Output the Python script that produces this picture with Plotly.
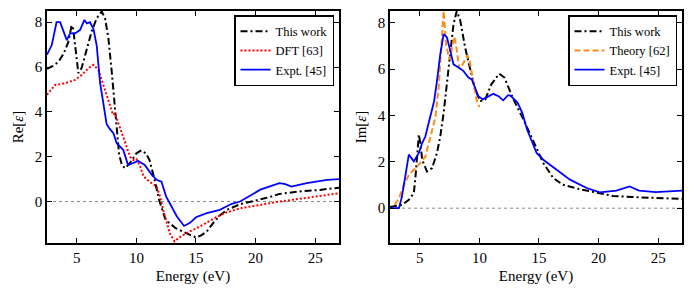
import plotly.graph_objects as go

# ---------------- Left panel: Re[eps] ----------------
re_this_x = [2.5, 3.0, 3.45, 3.9, 4.29, 4.57, 4.7, 4.85, 5.0, 5.13, 5.4, 5.83, 6.25, 6.67, 7.09, 7.37, 7.65,
             7.93, 8.2, 8.4, 8.55, 8.8, 9.07, 9.5, 10.0, 10.42, 10.8, 11.1, 11.5, 11.9, 12.45, 13.3,
             14.0, 14.5, 15.0, 15.4, 15.9, 16.45, 17.0, 17.6, 18.7, 19.5, 20.4, 21.2, 22.0, 23.0,
             23.7, 25.4, 27.0]
re_this_y = [5.92, 6.05, 6.23, 6.6, 7.12, 7.86, 7.7, 7.1, 6.4, 5.73, 5.95, 6.84, 7.59, 8.18, 8.48, 8.18, 7.29,
             5.8, 4.31, 3.0, 2.1, 1.6, 1.49, 1.75, 2.15, 2.28, 2.15, 1.85, 1.04, 0.08, -0.82, -1.19,
             -1.38, -1.49, -1.6, -1.52, -1.34, -0.95, -0.62, -0.37, -0.12, -0.02, 0.08, 0.2, 0.34, 0.42,
             0.45, 0.52, 0.62]

re_dft_x = [2.5, 3.17, 4.0, 4.86, 5.42, 5.98, 6.4, 6.8, 7.23, 7.65, 8.04, 8.2, 8.55, 8.9, 9.2, 9.47, 9.75,
            10.0, 10.3, 10.6, 11.1, 11.7, 12.0, 12.25, 12.8, 13.2, 13.6, 14.2, 15.3, 16.0, 16.7, 17.5,
            18.7, 20.4, 22.0, 23.7, 25.4, 27.0]
re_dft_y = [4.76, 5.2, 5.27, 5.43, 5.65, 5.95, 6.1, 5.88, 5.2, 4.46, 3.87, 3.94, 3.4, 2.9, 2.4, 2.0, 1.85,
            1.9, 1.6, 1.12, 0.89, 0.67, 0.2, -0.37, -1.41, -1.78, -1.6, -1.41, -1.12, -0.9, -0.7, -0.5,
            -0.3, -0.15, 0.0, 0.12, 0.25, 0.37]

re_exp_x = [2.5, 2.9, 3.3, 3.6, 3.88, 4.16, 4.44, 4.86, 5.28, 5.64, 5.84, 6.1, 6.4, 6.67, 6.95, 7.23, 7.5,
            7.75, 8.07, 8.35, 8.63, 8.9, 9.3, 9.7, 10.16, 10.7, 11.3, 11.7, 12.1, 12.5, 13.0, 13.4,
            14.0, 14.5, 15.0, 15.9, 17.0, 18.0, 18.7, 20.4, 22.0, 22.5, 23.0, 24.3, 26.0, 27.0]
re_exp_y = [6.55, 6.98, 8.0, 8.0, 7.6, 7.2, 7.5, 7.5, 7.66, 8.1, 7.95, 8.0, 7.7, 6.96, 5.32, 4.28, 3.46,
            3.25, 3.05, 2.6, 2.45, 2.3, 1.63, 1.7, 1.81, 1.63, 1.19, 0.97, 0.89, 0.22, -0.3, -0.67,
            -1.09, -0.95, -0.7, -0.52, -0.37, -0.1, 0.0, 0.53, 0.82, 0.78, 0.67, 0.82, 0.97, 1.0]

# ---------------- Right panel: Im[eps] ----------------
im_this_x = [2.5, 3.0, 3.5, 4.08, 4.5, 4.64, 4.78, 4.92, 5.05, 5.2, 5.6, 6.03, 6.44, 6.72, 7.0, 7.4, 7.83,
             8.1, 8.4, 8.8, 9.2, 9.6, 10.06, 10.5, 11.0, 11.67, 12.1, 12.5, 12.86, 13.7, 14.5, 15.36,
             16.2, 17.0, 18.4, 19.8, 21.2, 22.8, 24.5, 27.0]
im_this_y = [0.05, 0.1, 0.14, 0.36, 0.65, 1.37, 2.52, 3.17, 2.8, 2.09, 1.58, 1.73, 2.38, 3.1, 4.11, 5.9, 7.93,
             8.5, 8.08, 6.93, 6.06, 5.19, 4.61, 4.69, 5.34, 5.8, 5.63, 5.1, 4.69, 3.82, 2.95, 1.95,
             1.3, 1.01, 0.82, 0.68, 0.53, 0.48, 0.46, 0.4]

im_theory_x = [2.9, 3.25, 3.67, 4.08, 4.5, 5.05, 5.47, 5.75, 6.03, 6.3, 6.58, 6.86, 7.0, 7.22, 7.5, 7.7,
               7.92, 8.1, 8.33, 8.6, 9.0, 9.2, 9.5, 9.75, 10.0]
im_theory_y = [0.15, 0.43, 1.0, 1.44, 1.66, 1.95, 2.23, 2.81, 3.39, 3.9, 5.19, 7.36, 8.5, 7.0, 6.4, 6.9,
               7.4, 6.8, 6.0, 6.2, 6.6, 6.3, 5.34, 4.7, 4.35]

im_exp_x = [2.5, 3.25, 3.5, 3.8, 4.08, 4.5, 4.92, 5.2, 5.47, 5.75, 6.2, 6.44, 6.72, 7.0, 7.28, 7.56, 7.83,
            8.25, 8.67, 9.08, 9.36, 9.64, 9.9, 10.3, 10.7, 11.17, 11.6, 12.0, 12.4, 12.6, 13.2, 13.6,
            14.0, 14.8, 15.36, 16.47, 17.6, 19.0, 20.1, 21.5, 22.6, 23.4, 24.8, 27.0]
im_exp_y = [0.0, 0.0, 0.5, 1.37, 2.31, 2.02, 2.38, 2.81, 3.1, 3.68, 4.61, 5.48, 6.64, 7.5, 7.36, 6.78, 6.2,
            6.06, 5.91, 5.63, 5.55, 5.19, 4.83, 4.69, 4.8, 4.93, 4.83, 4.65, 4.87, 4.85, 4.55, 4.11,
            3.39, 2.38, 2.09, 1.66, 1.23, 0.87, 0.68, 0.76, 0.94, 0.76, 0.69, 0.76]

x_ticks = [5, 10, 15, 20, 25]
y_ticks = [0, 2, 4, 6, 8]

FONT = "Liberation Serif"
BLACK_LINE = dict(color="black", width=2, dash="7px,3px,2px,3px")
BLUE_LINE = dict(color="#0000ff", width=1.8)

fig = go.Figure()
fig.add_trace(go.Scatter(x=re_this_x, y=re_this_y, mode="lines", name="This work",
                         line=BLACK_LINE, xaxis="x", yaxis="y", legend="legend"))
fig.add_trace(go.Scatter(x=re_dft_x, y=re_dft_y, mode="lines", name="DFT [63]",
                         line=dict(color="#ff0000", width=2, dash="2px,2px"), xaxis="x", yaxis="y",
                         legend="legend"))
fig.add_trace(go.Scatter(x=re_exp_x, y=re_exp_y, mode="lines", name="Expt. [45]",
                         line=BLUE_LINE, xaxis="x", yaxis="y", legend="legend"))

fig.add_trace(go.Scatter(x=im_this_x, y=im_this_y, mode="lines", name="This work",
                         line=BLACK_LINE, xaxis="x2", yaxis="y2", legend="legend2"))
fig.add_trace(go.Scatter(x=im_theory_x, y=im_theory_y, mode="lines", name="Theory [62]",
                         line=dict(color="#ff8c1a", width=2, dash="6px,3px"), xaxis="x2", yaxis="y2",
                         legend="legend2"))
fig.add_trace(go.Scatter(x=im_exp_x, y=im_exp_y, mode="lines", name="Expt. [45]",
                         line=BLUE_LINE, xaxis="x2", yaxis="y2", legend="legend2"))

axis_common = dict(showline=True, linecolor="black", linewidth=1.5, mirror="ticks",
                   ticks="inside", ticklen=5, tickwidth=1, tickcolor="black",
                   showgrid=False, zeroline=False, automargin=False,
                   tickfont=dict(family=FONT, size=15, color="black"))

ytop = 1 - 11 / 299
ybot = 1 - 243 / 299

fig.update_layout(
    width=698, height=299,
    margin=dict(l=0, r=0, t=0, b=0),
    paper_bgcolor="white", plot_bgcolor="white",
    font=dict(family=FONT, color="black"),
    xaxis=dict(domain=[47 / 698, 339 / 698], range=[2.5, 27], tickvals=x_ticks, anchor="y",
               title=dict(text="Energy (eV)", font=dict(family=FONT, size=15), standoff=6),
               **axis_common),
    yaxis=dict(domain=[ybot, ytop], range=[-1.85, 8.5], tickvals=y_ticks, anchor="x",
               title=dict(text="Re[<i>ε</i>]", font=dict(family=FONT, size=15), standoff=8),
               **axis_common),
    xaxis2=dict(domain=[390 / 698, 682 / 698], range=[2.5, 27], tickvals=x_ticks, anchor="y2",
                title=dict(text="Energy (eV)", font=dict(family=FONT, size=15), standoff=6),
                **axis_common),
    yaxis2=dict(domain=[ybot, ytop], range=[-1.5, 8.5], tickvals=y_ticks, anchor="x2",
                title=dict(text="Im[<i>ε</i>]", font=dict(family=FONT, size=15), standoff=8),
                **axis_common),
    legend=dict(x=334 / 698, y=1 - 15 / 299, xanchor="right", yanchor="top",
                bordercolor="black", borderwidth=1.5, bgcolor="white",
                font=dict(family=FONT, size=12.5, color="black"), tracegroupgap=0),
    legend2=dict(x=677 / 698, y=1 - 15 / 299, xanchor="right", yanchor="top",
                 bordercolor="black", borderwidth=1.5, bgcolor="white",
                 font=dict(family=FONT, size=12.5, color="black"), tracegroupgap=0),
)

for xr, yr in (("x", "y"), ("x2", "y2")):
    fig.add_shape(type="line", xref=xr + " domain", yref=yr, x0=0, x1=1, y0=0, y1=0,
                  line=dict(color="#888888", width=1, dash="3px,3px"), layer="below")

fig.write_html("out.html", config={"displayModeBar": False},
               post_script="document.body.style.margin='0';document.body.style.padding='0';")
